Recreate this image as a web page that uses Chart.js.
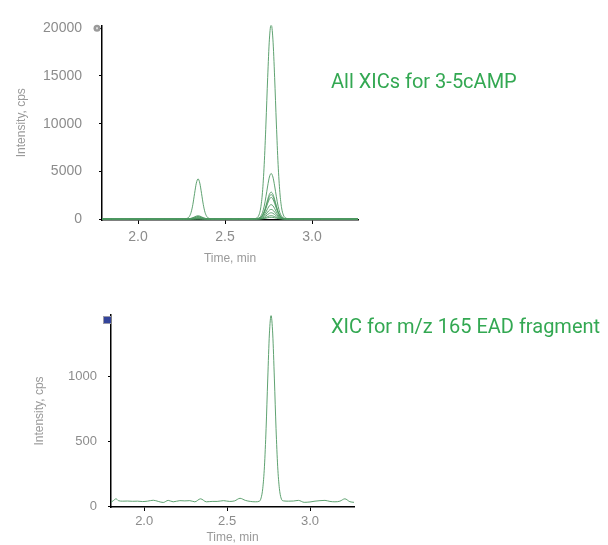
<!DOCTYPE html>
<html>
<head>
<meta charset="utf-8">
<script src="https://cdn.jsdelivr.net/npm/chart.js@4.4.1/dist/chart.umd.min.js"></script>
<style>
  html, body { margin: 0; padding: 0; background: #fff; overflow: hidden; }
  body { width: 608px; height: 545px; position: relative; }
  .wrap { position: absolute; left: 0; width: 608px; }
  #w1 { top: 0; height: 275px; }
  #w2 { top: 275px; height: 270px; }
  .note { position: absolute; left: 331px; font-family: Roboto, "Noto Sans", sans-serif; font-size: 20px; line-height: 20px; color: #33a852; white-space: nowrap; }
</style>
</head>
<body>
<div class="wrap" id="w1"><canvas id="c1" width="608" height="275"></canvas></div>
<div class="wrap" id="w2"><canvas id="c2" width="608" height="270"></canvas></div>
<div class="note" style="top:71px">All XICs for 3-5cAMP</div>
<div class="note" style="top:316px">XIC for m/z 165 EAD fragment</div>
<script>
// ---------- Data: top panel (all XICs) ----------
const topTimes = [1.79, 1.85, 1.95, 2.05, 2.15, 2.22, 2.255,
  2.275, 2.285, 2.295, 2.305, 2.315, 2.325, 2.335, 2.345, 2.355, 2.365, 2.375, 2.385, 2.395, 2.405, 2.415,
  2.44, 2.50, 2.58, 2.64, 2.665,
  2.675, 2.685, 2.695, 2.705, 2.715, 2.725, 2.735, 2.745, 2.755, 2.765, 2.775, 2.785, 2.795, 2.805, 2.815, 2.825, 2.835, 2.845, 2.855,
  2.865, 2.89, 2.95, 3.05, 3.15, 3.265];

const xicA = [30, 35, 28, 32, 30, 34, 36,
  50, 100, 270, 700, 1520, 2680, 3760, 4210, 3760, 2680, 1520, 700, 270, 100, 50,
  32, 30, 34, 30, 40,
  60, 150, 430, 1170, 2790, 5700, 9960, 14840, 18860, 20430, 18860, 14840, 9960, 5700, 2790, 1170, 430, 150, 60,
  40, 32, 30, 34, 30, 28];
const xicB = [25, 22, 26, 24, 25, 22, 26,
  26, 30, 44, 77, 140, 228, 311, 345, 311, 228, 140, 77, 44, 30, 26,
  24, 26, 22, 25, 26,
  33, 53, 120, 291, 666, 1345, 2338, 3474, 4409, 4775, 4409, 3474, 2338, 1345, 666, 291, 120, 53, 33,
  28, 25, 24, 26, 22, 24];
const xicC = [20, 18, 21, 19, 20, 22, 19,
  21, 24, 35, 61, 110, 179, 243, 270, 243, 179, 110, 61, 35, 24, 21,
  20, 19, 21, 18, 22,
  24, 37, 76, 177, 398, 798, 1384, 2053, 2604, 2820, 2604, 2053, 1384, 798, 398, 177, 76, 37, 24,
  22, 20, 19, 21, 20, 18];
const xicD = [15, 16, 14, 15, 17, 14, 15,
  16, 18, 26, 44, 80, 129, 176, 195, 176, 129, 80, 44, 26, 18, 16,
  15, 14, 16, 15, 17,
  19, 30, 66, 158, 359, 724, 1257, 1866, 2369, 2565, 2369, 1866, 1257, 724, 359, 158, 66, 30, 19,
  17, 15, 16, 14, 15, 16];
const xicE = [12, 11, 13, 12, 12, 13, 11,
  12, 14, 19, 32, 55, 88, 119, 132, 119, 88, 55, 32, 19, 14, 12,
  12, 13, 11, 12, 13,
  16, 26, 57, 138, 316, 638, 1108, 1646, 2089, 2262, 2089, 1646, 1108, 638, 316, 138, 57, 26, 16,
  14, 12, 13, 11, 12, 12];
const xicF = [10, 9, 11, 10, 10, 9, 11,
  10, 11, 15, 23, 39, 61, 81, 90, 81, 61, 39, 23, 15, 11, 10,
  10, 11, 9, 10, 11,
  12, 19, 40, 94, 213, 427, 741, 1099, 1395, 1510, 1395, 1099, 741, 427, 213, 94, 40, 19, 12,
  11, 10, 9, 10, 11, 10];
const xicG = [8, 8, 9, 7, 8, 9, 8,
  8, 9, 11, 16, 26, 40, 53, 58, 53, 40, 26, 16, 11, 9, 8,
  8, 7, 9, 8, 8,
  10, 14, 28, 64, 143, 286, 495, 734, 931, 1008, 931, 734, 495, 286, 143, 64, 28, 14, 10,
  9, 8, 8, 7, 9, 8];
const xicH = [6, 5, 6, 7, 6, 5, 6,
  6, 6, 8, 11, 17, 25, 33, 36, 33, 25, 17, 11, 8, 6, 6,
  6, 5, 6, 7, 6,
  7, 10, 19, 42, 94, 187, 323, 478, 606, 656, 606, 478, 323, 187, 94, 42, 19, 10, 7,
  6, 6, 5, 6, 7, 6];
const xicI = [4, 4, 5, 4, 3, 4, 5,
  4, 4, 5, 7, 11, 17, 22, 24, 22, 17, 11, 7, 5, 4, 4,
  4, 5, 4, 3, 4,
  5, 6, 11, 24, 51, 101, 174, 258, 327, 354, 327, 258, 174, 101, 51, 24, 11, 6, 5,
  4, 4, 5, 4, 3, 4];
const xicJ = [2, 2, 3, 2, 2, 3, 2,
  2, 2, 3, 4, 6, 8, 11, 12, 11, 8, 6, 4, 3, 2, 2,
  2, 3, 2, 2, 3,
  2, 3, 6, 12, 26, 52, 90, 133, 168, 182, 168, 133, 90, 52, 26, 12, 6, 3, 2,
  3, 2, 2, 3, 2, 2];
const topSeries = [xicA, xicB, xicC, xicD, xicE, xicF, xicG, xicH, xicI, xicJ];
const topYTicks = [0, 5000, 10000, 15000, 20000];

// ---------- Data: bottom panel (m/z 165 EAD fragment) ----------
const fragTimes = [1.800, 1.815, 1.830, 1.845, 1.870, 1.900, 1.930, 1.960, 1.990, 2.020,
  2.055, 2.085, 2.115, 2.145, 2.175, 2.215, 2.245, 2.275, 2.305, 2.340,
  2.375, 2.410, 2.440, 2.478, 2.515, 2.545, 2.578, 2.610, 2.640, 2.670,
  2.695, 2.705, 2.715, 2.725, 2.735, 2.745, 2.755, 2.765, 2.775, 2.785,
  2.795, 2.805, 2.815, 2.825, 2.840, 2.870, 2.900, 2.930, 2.965, 3.000,
  3.030, 3.060, 3.090, 3.120, 3.150, 3.180, 3.210, 3.240, 3.265];
const fragIntensity = [31, 45, 58, 44, 40, 41, 39, 40, 37, 40,
  47, 38, 30, 46, 35, 44, 42, 44, 35, 58,
  35, 38, 38, 44, 38, 42, 62, 46, 38, 35,
  40, 65, 139, 305, 599, 982, 1329, 1470, 1329, 982,
  599, 305, 139, 65, 42, 40, 41, 46, 31, 34,
  40, 44, 46, 38, 35, 40, 58, 36, 31];
const bottomYTicks = [0, 500, 1000];
const timeTicks = [2.0, 2.5, 3.0];

// ---------- Chart helpers ----------
const LINE = 'rgba(78,152,98,0.9)';
const GRAY = '#8c8c8c';

function xy(times, vals) { return times.map((t, i) => ({ x: t, y: vals[i] })); }

function iconPlugin(kind) {
  return {
    id: 'icon_' + kind,
    afterDraw(chart) {
      const ctx = chart.ctx, a = chart.chartArea;
      ctx.save();
      if (kind === 'circle') {
        const x = a.left - 5, y = chart.scales.y.getPixelForValue(20000);
        ctx.fillStyle = '#9a9a9a';
        ctx.beginPath(); ctx.arc(x, y, 3.5, 0, Math.PI * 2); ctx.fill();
        ctx.fillStyle = '#dcdcdc';
        ctx.fillRect(x - 1, y - 1, 2, 2);
      } else {
        const x = a.left - 4, y = a.top + 5;
        ctx.fillStyle = '#9a9aa8';
        ctx.fillRect(x - 4, y - 4, 8, 8);
        ctx.fillStyle = '#33449a';
        ctx.fillRect(x - 3, y - 3, 7, 6);
      }
      ctx.restore();
    }
  };
}

function makeChart(canvas, cfg) {
  return new Chart(canvas, {
    type: 'line',
    data: { datasets: cfg.datasets },
    options: {
      responsive: false,
      animation: false,
      events: [],
      layout: { padding: cfg.padding },
      plugins: { legend: { display: false }, tooltip: { enabled: false }, title: { display: false } },
      elements: { point: { radius: 0 }, line: { borderWidth: 1, cubicInterpolationMode: 'monotone' } },
      scales: {
        x: {
          type: 'linear', min: cfg.xMin, max: cfg.xMax,
          afterFit(s) { s.height = cfg.xHeight; },
          afterBuildTicks(s) { s.ticks = timeTicks.map(v => ({ value: v })); },
          ticks: { callback: v => Number(v).toFixed(1), color: GRAY, padding: cfg.xTickPad,
                   font: { family: '"Liberation Sans", Arial, sans-serif', size: cfg.tickSize } },
          grid: { display: true, drawOnChartArea: false, drawTicks: true, tickLength: 4, color: '#000' },
          border: { display: true, color: '#000', width: 1.5 },
          title: { display: true, text: 'Time, min', color: '#9a9a9a',
                   font: { family: '"Liberation Sans", Arial, sans-serif', size: 12 },
                   padding: { top: 0, bottom: cfg.xTitlePad } }
        },
        y: {
          type: 'linear', min: cfg.yMin, max: cfg.yMax,
          afterFit(s) { s.width = cfg.yWidth; },
          afterBuildTicks(s) { s.ticks = cfg.yTicks.map(v => ({ value: v })); },
          ticks: { callback: v => String(Math.round(v)), color: GRAY, padding: cfg.yTickPad,
                   font: { family: '"Liberation Sans", Arial, sans-serif', size: cfg.tickSize } },
          grid: { display: true, drawOnChartArea: false, drawTicks: true, tickLength: 3, color: '#000' },
          border: { display: true, color: '#000', width: 1.5 },
          title: { display: true, text: 'Intensity, cps', color: '#9a9a9a',
                   font: { family: '"Liberation Sans", Arial, sans-serif', size: 12 },
                   padding: { top: cfg.yTitlePad, bottom: 0 } }
        }
      }
    },
    plugins: [iconPlugin(cfg.icon)]
  });
}

makeChart(document.getElementById('c1'), {
  datasets: topSeries.map(s => ({ data: xy(topTimes, s), borderColor: LINE, fill: false })),
  padding: { left: 0, right: 250, top: 20, bottom: 0 },
  xMin: 1.793, xMax: 3.264, yMin: -100, yMax: 20300,
  xHeight: 55, yWidth: 102, xTickPad: 5, yTickPad: 17, tickSize: 14,
  xTitlePad: 9, yTitlePad: 14, yTicks: topYTicks, icon: 'circle'
});

makeChart(document.getElementById('c2'), {
  datasets: [{ data: xy(fragTimes, fragIntensity), borderColor: LINE, fill: false }],
  padding: { left: 0, right: 254, top: 40, bottom: 0 },
  xMin: 1.80, xMax: 3.265, yMin: -5, yMax: 1475,
  xHeight: 38, yWidth: 111, xTickPad: 3, yTickPad: 11, tickSize: 13,
  xTitlePad: 0, yTitlePad: 32, yTicks: bottomYTicks, icon: 'square'
});
</script>
</body>
</html>
